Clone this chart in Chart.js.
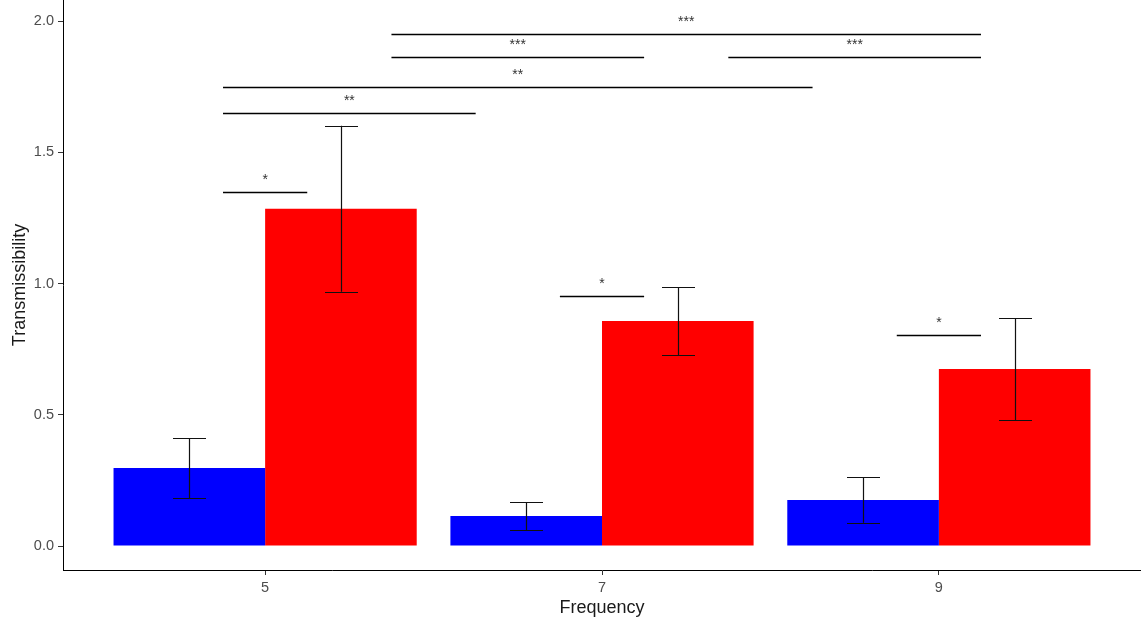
<!DOCTYPE html>
<html lang="en">
<head>
    <meta charset="UTF-8">
    <title>Transmissibility</title>
    <style>
        html, body { margin: 0; padding: 0; background: #fff; overflow: hidden; }
        #barChart { display: block; }
    </style>
</head>
<body>
    <canvas id="barChart" width="1141" height="620"></canvas>

    <script src="https://cdn.jsdelivr.net/npm/chart.js@4/dist/chart.umd.min.js"></script>
    <script>
    // data
    const categories = ["5", "7", "9"];
    const blueMeans = [0.297, 0.114, 0.175];
    const blueErrors = [0.114, 0.053, 0.086];
    const redMeans = [1.285, 0.857, 0.674];
    const redErrors = [0.316, 0.13, 0.195];

    // significance brackets: [from, to] in axis units (category 5 = 1, 7 = 2, 9 = 3)
    const bracketStarts = [0.875, 0.875, 0.875, 1.375, 2.375, 1.375, 1.875, 2.875];
    const bracketEnds   = [1.125, 1.625, 2.625, 2.125, 3.125, 3.125, 2.125, 3.125];
    const bracketHeights = [1.35, 1.65, 1.75, 1.863, 1.863, 1.95, 0.952, 0.804];
    const bracketLabels = ["*", "**", "**", "***", "***", "***", "*", "*"];

    const toPoints = arr => arr.map((v, i) => ({x: i + 1, y: v}));
    const FONT = "'Liberation Sans', Arial, sans-serif";

    const errorBarPlugin = {
        id: "errorBars",
        afterDatasetsDraw(chart) {
            const ctx = chart.ctx;
            const yScale = chart.scales.y;
            const errs = [blueErrors, redErrors];
            ctx.save();
            ctx.strokeStyle = "#111";
            ctx.lineWidth = 1.2;
            chart.data.datasets.forEach((ds, d) => {
                const meta = chart.getDatasetMeta(d);
                meta.data.forEach((bar, i) => {
                    const v = ds.data[i].y;
                    const top = yScale.getPixelForValue(v + errs[d][i]);
                    const bot = yScale.getPixelForValue(v - errs[d][i]);
                    const cx = Math.round(bar.x) + 0.5;
                    const half = 16.5;
                    ctx.beginPath();
                    ctx.moveTo(cx, top); ctx.lineTo(cx, bot);
                    ctx.moveTo(cx - half, Math.round(top) + 0.5); ctx.lineTo(cx + half, Math.round(top) + 0.5);
                    ctx.moveTo(cx - half, Math.round(bot) + 0.5); ctx.lineTo(cx + half, Math.round(bot) + 0.5);
                    ctx.stroke();
                });
            });
            ctx.restore();
        }
    };

    const bracketPlugin = {
        id: "brackets",
        afterDatasetsDraw(chart) {
            const ctx = chart.ctx;
            const xs = chart.scales.x, ys = chart.scales.y;
            ctx.save();
            ctx.strokeStyle = "#000";
            ctx.lineWidth = 1.3;
            ctx.fillStyle = "#333";
            ctx.font = "14px " + FONT;
            ctx.textAlign = "center";
            ctx.textBaseline = "middle";
            for (let i = 0; i < bracketLabels.length; i++) {
                const x1 = xs.getPixelForValue(bracketStarts[i]);
                const x2 = xs.getPixelForValue(bracketEnds[i]);
                const y = Math.round(ys.getPixelForValue(bracketHeights[i])) + 0.5;
                ctx.beginPath();
                ctx.moveTo(x1, y); ctx.lineTo(x2, y);
                ctx.stroke();
                ctx.fillText(bracketLabels[i], (x1 + x2) / 2, y - 12);
            }
            ctx.restore();
        }
    };

    const ctx = document.getElementById("barChart").getContext("2d");
    new Chart(ctx, {
        type: "bar",
        data: {
            datasets: [
                {label: "blue", data: toPoints(blueMeans), backgroundColor: "#0000FF"},
                {label: "red", data: toPoints(redMeans), backgroundColor: "#FF0000"}
            ]
        },
        options: {
            responsive: false,
            animation: false,
            devicePixelRatio: 1,
            categoryPercentage: 0.9,
            barPercentage: 1.0,
            layout: {padding: {top: 0, right: 0, bottom: 0, left: 0}},
            plugins: {
                legend: {display: false},
                tooltip: {enabled: false}
            },
            scales: {
                x: {
                    type: "linear",
                    min: 0.4,
                    max: 3.6,
                    offset: false,
                    afterBuildTicks: scale => {
                        scale.ticks = categories.map((c, i) => ({value: i + 1}));
                    },
                    afterFit: scale => { scale.height = 50; },
                    grid: {display: true, offset: false, drawOnChartArea: false, tickLength: 5, color: "#333"},
                    border: {display: true, color: "#000", width: 1},
                    ticks: {
                        color: "#4d4d4d",
                        padding: 4,
                        font: {family: FONT, size: 14.5},
                        callback: v => categories[v - 1]
                    },
                    title: {
                        display: true,
                        text: "Frequency",
                        color: "#1a1a1a",
                        padding: {top: 0, bottom: 1},
                        font: {family: FONT, size: 18}
                    }
                },
                y: {
                    min: -0.0914,
                    max: 2.08,
                    afterFit: scale => { scale.width = 63; scale.paddingTop = 0; },
                    grid: {display: true, drawOnChartArea: false, tickLength: 5, color: "#333"},
                    border: {display: true, color: "#000", width: 1},
                    ticks: {
                        stepSize: 0.5,
                        includeBounds: false,
                        color: "#4d4d4d",
                        padding: 4,
                        font: {family: FONT, size: 14.5},
                        callback: v => v.toFixed(1)
                    },
                    title: {
                        display: true,
                        text: "Transmissibility",
                        color: "#1a1a1a",
                        padding: {top: 9, bottom: 2},
                        font: {family: FONT, size: 18}
                    }
                }
            }
        },
        plugins: [errorBarPlugin, bracketPlugin]
    });
    </script>
</body>
</html>
